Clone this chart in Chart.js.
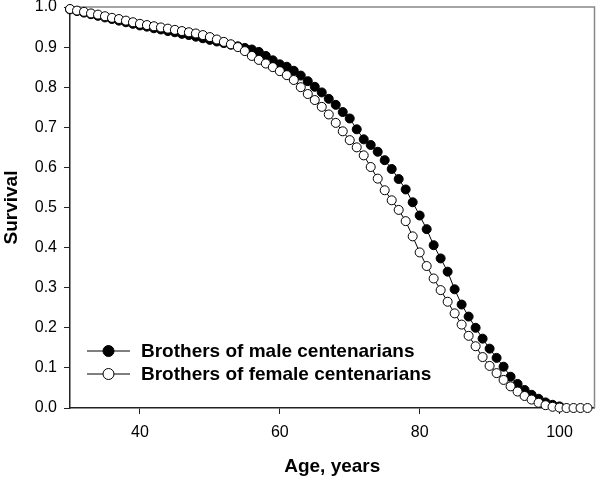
<!DOCTYPE html>
<html>
<head>
<meta charset="utf-8">
<style>
  html, body { margin: 0; padding: 0; background: #fff; }
  #wrap { width: 600px; height: 478px; }
</style>
<script src="https://cdn.jsdelivr.net/npm/chart.js@4.4.1/dist/chart.umd.min.js"></script>
</head>
<body>
<div id="wrap"><canvas id="chart" width="600" height="478"></canvas></div>
<script>
// ages (years) and survival
const agesFemale = [30, 31, 32, 33, 34, 35, 36, 37, 38, 39, 40, 41, 42, 43, 44, 45, 46, 47, 48, 49,
  50, 51, 52, 53, 54, 55, 56, 57, 58, 59, 60, 61, 62, 63, 64, 65, 66, 67, 68, 69,
  70, 71, 72, 73, 74, 75, 76, 77, 78, 79, 80, 81, 82, 83, 84, 85, 86, 87, 88, 89,
  90, 91, 92, 93, 94, 95, 96, 97, 98, 99, 100, 101, 102, 103, 104];
const survFemale = [0.995, 0.991, 0.988, 0.984, 0.981, 0.977, 0.973, 0.970, 0.966, 0.962,
  0.958, 0.955, 0.952, 0.949, 0.946, 0.943, 0.940, 0.937, 0.934, 0.930,
  0.925, 0.919, 0.913, 0.907, 0.900, 0.890, 0.878, 0.868, 0.859, 0.850,
  0.840, 0.830, 0.818, 0.800, 0.783, 0.768, 0.751, 0.732, 0.711, 0.690,
  0.668, 0.650, 0.630, 0.601, 0.572, 0.543, 0.518, 0.494, 0.466, 0.428,
  0.388, 0.354, 0.323, 0.294, 0.265, 0.236, 0.208, 0.180, 0.154, 0.127,
  0.105, 0.087, 0.070, 0.054, 0.041, 0.030, 0.021, 0.013, 0.007, 0.003,
  0.001, 0.000, 0.000, 0.000, 0.000];

const agesMale = [30, 31, 32, 33, 34, 35, 36, 37, 38, 39, 40, 41, 42, 43, 44, 45, 46, 47, 48, 49,
  50, 51, 52, 53, 54, 55, 56, 57, 58, 59, 60, 61, 62, 63, 64, 65, 66, 67, 68, 69,
  70, 71, 72, 73, 74, 75, 76, 77, 78, 79, 80, 81, 82, 83, 84, 85, 86, 87, 88, 89,
  90, 91, 92, 93, 94, 95, 96, 97, 98, 99, 100];
const survMale = [0.994, 0.990, 0.986, 0.982, 0.978, 0.974, 0.970, 0.966, 0.962, 0.958,
  0.954, 0.951, 0.947, 0.944, 0.940, 0.937, 0.933, 0.930, 0.926, 0.922,
  0.918, 0.914, 0.910, 0.906, 0.902, 0.898, 0.894, 0.888, 0.878, 0.867,
  0.857, 0.851, 0.841, 0.829, 0.815, 0.801, 0.787, 0.771, 0.756, 0.738,
  0.722, 0.695, 0.670, 0.656, 0.639, 0.618, 0.596, 0.571, 0.545, 0.513,
  0.480, 0.446, 0.406, 0.373, 0.340, 0.296, 0.258, 0.228, 0.200, 0.173,
  0.148, 0.125, 0.103, 0.078, 0.060, 0.045, 0.033, 0.023, 0.014, 0.008,
  0.004];

const seriesNames = ["Brothers of male centenarians", "Brothers of female centenarians"];
const xTicks = [40, 60, 80, 100];
const yTicks = [0, 0.1, 0.2, 0.3, 0.4, 0.5, 0.6, 0.7, 0.8, 0.9, 1.0];

const FONT = "'Liberation Sans', Arial, sans-serif";

function toPoints(xs, ys) {
  return xs.map((x, i) => ({ x: x, y: ys[i] }));
}

// legend with a short line through the marker, drawn inside the plot
const lineLegend = {
  id: "lineLegend",
  afterDatasetsDraw(chart) {
    const ctx = chart.ctx;
    const area = chart.chartArea;
    const x0 = area.left + 17;
    const rows = [area.bottom - 57, area.bottom - 34];
    ctx.save();
    chart.data.datasets.forEach((ds, i) => {
      const y = rows[i];
      ctx.strokeStyle = "#000";
      ctx.lineWidth = 1;
      ctx.beginPath();
      ctx.moveTo(x0, y);
      ctx.lineTo(x0 + 43, y);
      ctx.stroke();
      ctx.beginPath();
      ctx.arc(x0 + 21.5, y, 5.5, 0, Math.PI * 2);
      ctx.fillStyle = ds.pointBackgroundColor;
      ctx.fill();
      ctx.stroke();
      ctx.fillStyle = "#000";
      ctx.font = "bold 19px " + FONT;
      ctx.textBaseline = "middle";
      ctx.textAlign = "left";
      ctx.fillText(ds.label, x0 + 54, y + 1);
    });
    ctx.restore();
  }
};

// grey frame on the top and right sides
const frame = {
  id: "frame",
  beforeDatasetsDraw(chart) {
    const ctx = chart.ctx;
    const a = chart.chartArea;
    ctx.save();
    ctx.strokeStyle = "#888";
    ctx.lineWidth = 1.5;
    ctx.beginPath();
    ctx.moveTo(a.left, a.top);
    ctx.lineTo(a.right, a.top);
    ctx.lineTo(a.right, a.bottom);
    ctx.stroke();
    ctx.restore();
  }
};

const ctx = document.getElementById("chart").getContext("2d");
new Chart(ctx, {
  type: "scatter",
  data: {
    datasets: [
      {
        label: seriesNames[0],
        data: toPoints(agesMale, survMale),
        showLine: true,
        borderColor: "#000",
        borderWidth: 1,
        pointRadius: 4.5,
        pointBorderWidth: 1,
        pointBackgroundColor: "#000",
        pointBorderColor: "#000",
        order: 1,
        clip: false
      },
      {
        label: seriesNames[1],
        data: toPoints(agesFemale, survFemale),
        showLine: true,
        borderColor: "#000",
        borderWidth: 1,
        pointRadius: 4.5,
        pointBorderWidth: 1,
        pointBackgroundColor: "#fff",
        pointBorderColor: "#000",
        order: 0,
        clip: false
      }
    ]
  },
  options: {
    responsive: false,
    animation: false,
    events: [],
    layout: { padding: { top: 7, right: 4, left: 0, bottom: 0 } },
    plugins: {
      legend: { display: false },
      tooltip: { enabled: false }
    },
    scales: {
      x: {
        type: "linear",
        min: 30,
        max: 105,
        afterBuildTicks: (s) => { s.ticks = xTicks.map(v => ({ value: v })); },
        afterFit: (s) => { s.height = 70; s.paddingLeft = 0; s.paddingRight = 0; },
        grid: { drawOnChartArea: false, drawTicks: true, tickLength: 6, color: "#222" },
        border: { color: "#222", width: 1.5 },
        ticks: { color: "#000", padding: 9, font: { family: FONT, size: 16 }, maxRotation: 0 },
        title: { display: true, text: "Age, years", color: "#000", padding: 0,
          font: { family: FONT, size: 19, weight: "bold" } }
      },
      y: {
        type: "linear",
        min: 0,
        max: 1,
        afterBuildTicks: (s) => { s.ticks = yTicks.map(v => ({ value: v })); },
        afterFit: (s) => { s.width = 70; s.paddingTop = 0; s.paddingBottom = 0; },
        grid: { drawOnChartArea: false, drawTicks: true, tickLength: 6, color: "#222" },
        border: { color: "#222", width: 1.5 },
        ticks: { color: "#000", padding: 7, font: { family: FONT, size: 16 },
          callback: (v) => v.toFixed(1) },
        title: { display: true, text: "Survival", color: "#000", padding: 0,
          font: { family: FONT, size: 19, weight: "bold" } }
      }
    }
  },
  plugins: [frame, lineLegend]
});
</script>
</body>
</html>
